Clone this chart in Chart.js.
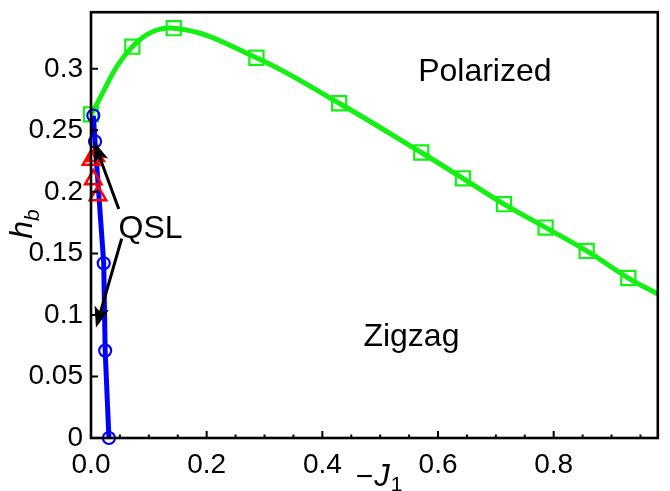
<!DOCTYPE html>
<html>
<head>
<meta charset="UTF-8">
<title>phase diagram</title>
<script src="https://cdn.jsdelivr.net/npm/chart.js"></script>
<style>
  body {margin: 0; background: #fff;}
  #wrap {width: 670px; height: 491px;}
</style>
</head>
<body>
<div id="wrap"><canvas id="c"></canvas></div>
<script>
// polarized boundary (squares), last point = end of curve at the right edge
const greenX = [0.0, 0.0714, 0.143, 0.286, 0.429, 0.571, 0.643, 0.714, 0.786, 0.857, 0.929, 0.98];
const greenY = [0.263, 0.318, 0.333, 0.309, 0.272, 0.232, 0.211, 0.190, 0.171, 0.152, 0.130, 0.117];
// zigzag boundary (circles)
const blueX = [0.004, 0.007, 0.022, 0.0245, 0.031];
const blueY = [0.262, 0.241, 0.142, 0.071, 0.0];
// QSL points (triangles)
const redX = [0.0, 0.008, 0.004, 0.012];
const redY = [0.226, 0.229, 0.210, 0.197];

const xTicks = [0, 0.2, 0.4, 0.6, 0.8];
const xMinor = [0.05, 0.1, 0.15, 0.25, 0.3, 0.35, 0.45, 0.5, 0.55, 0.65, 0.7, 0.75, 0.85, 0.9, 0.95];
const yTicks = [0, 0.05, 0.1, 0.15, 0.2, 0.25, 0.3];

const font = '"Liberation Sans", Arial, sans-serif';
const green = '#14f014';

const pts = (xs, ys) => xs.map((v, i) => ({x: v, y: ys[i]}));

// annotations in data units
const labels = [
  {text: 'Polarized', x: 0.681, y: 0.2976},
  {text: 'Zigzag', x: 0.554, y: 0.0823},
  {text: 'QSL', x: 0.103, y: 0.170}
];
const arrows = [
  {x0: 0.048, y0: 0.186, x1: 0.005, y1: 0.241},
  {x0: 0.053, y0: 0.162, x1: 0.0086, y1: 0.0895}
];

const decor = {
  id: 'decor',
  afterDatasetsDraw(chart) {
    const {ctx, chartArea: a, scales: {x, y}} = chart;
    ctx.save();
    ctx.strokeStyle = '#000';
    ctx.fillStyle = '#000';
    // ticks inside
    ctx.lineWidth = 2;
    ctx.beginPath();
    xTicks.forEach(v => { const px = x.getPixelForValue(v); ctx.moveTo(px, a.bottom); ctx.lineTo(px, a.bottom - 7); });
    xMinor.forEach(v => { const px = x.getPixelForValue(v); ctx.moveTo(px, a.bottom); ctx.lineTo(px, a.bottom - 3.5); });
    yTicks.forEach(v => { const py = y.getPixelForValue(v); ctx.moveTo(a.left, py); ctx.lineTo(a.left + 7, py); });
    ctx.stroke();
    // frame
    ctx.lineWidth = 2.6;
    ctx.strokeRect(a.left, a.top, a.right - a.left, a.bottom - a.top);

    // text labels
    ctx.font = '32px ' + font;
    ctx.textAlign = 'center';
    ctx.textBaseline = 'middle';
    labels.forEach(l => ctx.fillText(l.text, x.getPixelForValue(l.x), y.getPixelForValue(l.y)));

    // arrows
    arrows.forEach(ar => {
      const x0 = x.getPixelForValue(ar.x0), y0 = y.getPixelForValue(ar.y0);
      const x1 = x.getPixelForValue(ar.x1), y1 = y.getPixelForValue(ar.y1);
      const ang = Math.atan2(y1 - y0, x1 - x0);
      const c = Math.cos(ang), s = Math.sin(ang);
      const len = 21, hw = 7.5, notch = 5;
      const bx = x1 - len * c, by = y1 - len * s;
      ctx.lineWidth = 3;
      ctx.beginPath();
      ctx.moveTo(x0, y0);
      ctx.lineTo(bx + notch * c, by + notch * s);
      ctx.stroke();
      ctx.beginPath();
      ctx.moveTo(x1, y1);
      ctx.lineTo(bx + hw * s, by - hw * c);
      ctx.lineTo(bx + notch * c, by + notch * s);
      ctx.lineTo(bx - hw * s, by + hw * c);
      ctx.closePath();
      ctx.fill();
    });

    // axis titles
    ctx.textAlign = 'left';
    ctx.textBaseline = 'alphabetic';
    // -J_1
    ctx.font = '30px ' + font;
    const wm = ctx.measureText('\u2212').width;
    ctx.font = 'italic 31px ' + font;
    const wj = ctx.measureText('J').width;
    ctx.font = '21px ' + font;
    const w1 = ctx.measureText('1').width;
    const sx = 379 - (wm + wj + w1 + 2) / 2;
    const base = 486;
    ctx.font = '30px ' + font;
    ctx.fillText('\u2212', sx, base);
    ctx.font = 'italic 31px ' + font;
    ctx.fillText('J', sx + wm + 1, base);
    ctx.font = '21px ' + font;
    ctx.fillText('1', sx + wm + wj + 2, base + 5);

    // h_b rotated
    ctx.translate(32, 224);
    ctx.rotate(-Math.PI / 2);
    ctx.font = 'italic 32px ' + font;
    const wh = ctx.measureText('h').width;
    ctx.font = 'italic 21px ' + font;
    const wb = ctx.measureText('b').width;
    const hx = -(wh + wb) / 2;
    ctx.font = 'italic 32px ' + font;
    ctx.fillText('h', hx, 0);
    ctx.font = 'italic 21px ' + font;
    ctx.fillText('b', hx + wh, 7);
    ctx.restore();
  }
};

new Chart(document.getElementById('c'), {
  type: 'scatter',
  data: {
    datasets: [
      {
        label: 'QSL',
        data: pts(redX, redY),
        showLine: false,
        pointStyle: 'triangle',
        pointRadius: 9.5,
        pointBorderWidth: 2.5,
        pointBorderColor: '#ff0000',
        pointBackgroundColor: 'rgba(0,0,0,0)',
        clip: false
      },
      {
        label: 'Zigzag',
        data: pts(blueX, blueY),
        showLine: true,
        borderColor: '#0000ff',
        borderWidth: 5,
        tension: 0,
        pointStyle: 'circle',
        pointRadius: 6,
        pointBorderWidth: 2.2,
        pointBorderColor: '#0000ff',
        pointBackgroundColor: 'rgba(0,0,0,0)',
        clip: false
      },
      {
        label: 'Polarized',
        data: pts(greenX, greenY),
        showLine: true,
        borderColor: green,
        borderWidth: 5,
        tension: 0.4,
        pointStyle: 'rect',
        pointRadius: greenX.map((v, i) => i === greenX.length - 1 ? 0 : 10),
        pointBorderWidth: 2.2,
        pointBorderColor: green,
        pointBackgroundColor: 'rgba(0,0,0,0)',
        clip: false
      }
    ]
  },
  options: {
    responsive: true,
    maintainAspectRatio: false,
    animation: false,
    layout: {padding: {top: 10, right: 8, left: 0, bottom: 0}},
    plugins: {legend: {display: false}, tooltip: {enabled: false}},
    scales: {
      x: {
        type: 'linear',
        min: 0, max: 0.98,
        grid: {display: false},
        border: {display: false},
        afterBuildTicks: s => { s.ticks = xTicks.map(v => ({value: v})); },
        afterFit: s => { s.height = 53; s.paddingLeft = 0; s.paddingRight = 0; },
        ticks: {
          color: '#000',
          padding: 2,
          maxRotation: 0,
          font: {family: font, size: 28},
          callback: v => v.toFixed(1)
        }
      },
      y: {
        type: 'linear',
        min: 0, max: 0.346,
        grid: {display: false},
        border: {display: false},
        afterBuildTicks: s => { s.ticks = yTicks.map(v => ({value: v})); },
        afterFit: s => { s.width = 91; s.paddingTop = 0; s.paddingBottom = 0; },
        ticks: {
          color: '#000',
          padding: 0,
          font: {family: font, size: 28},
          callback: v => String(parseFloat(v.toFixed(2)))
        }
      }
    }
  },
  plugins: [decor]
});
</script>
</body>
</html>
